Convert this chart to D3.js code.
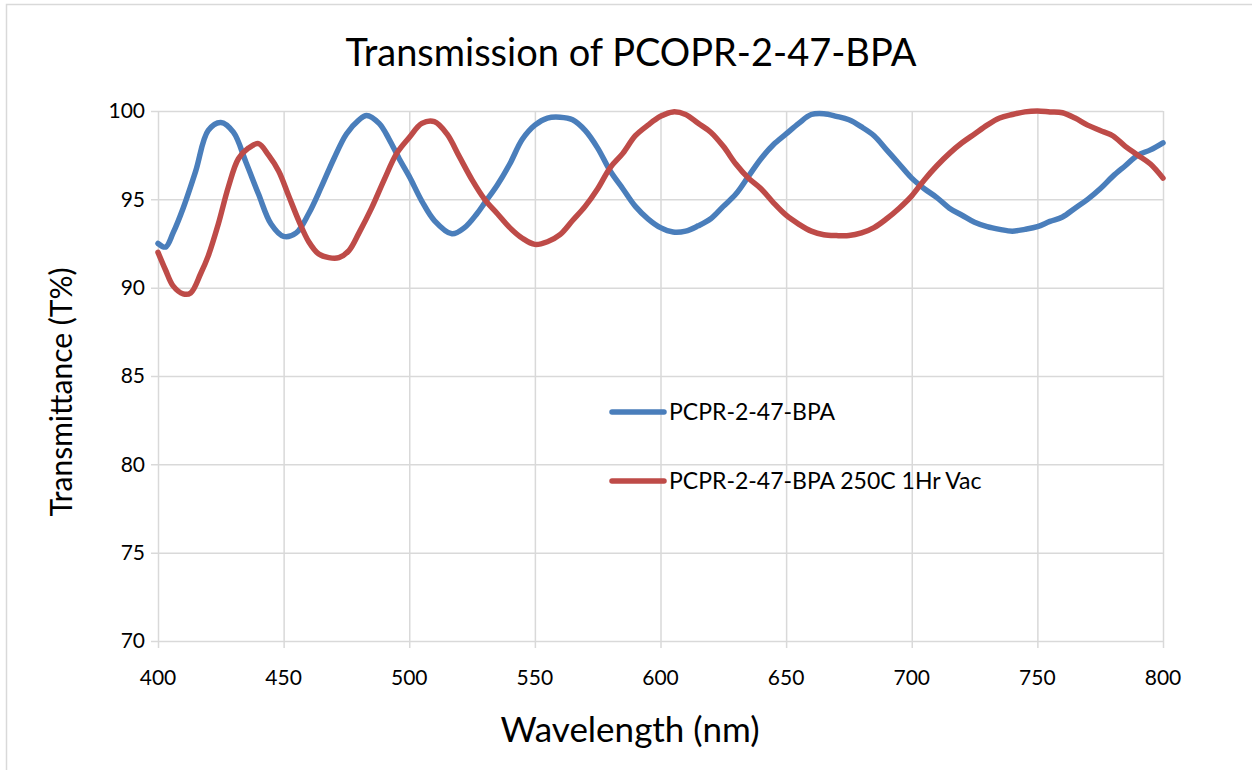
<!DOCTYPE html>
<html>
<head>
<meta charset="utf-8">
<script src="https://cdn.jsdelivr.net/npm/d3@7"></script>
<style>
  html, body { margin: 0; padding: 0; background: #fff; }
  svg { display: block; }
  text { font-family: Lato, "Open Sans", sans-serif; fill: #000; }
</style>
</head>
<body>
<svg id="chart" width="1252" height="770"></svg>
<script>
const title = "Transmission of PCOPR-2-47-BPA";
const xLabel = "Wavelength (nm)";
const yLabel = "Transmittance (T%)";
const seriesNames = ["PCPR-2-47-BPA", "PCPR-2-47-BPA 250C 1Hr Vac"];
const seriesColors = ["#4a7ebb", "#be4b48"];
const xTicks = [400, 450, 500, 550, 600, 650, 700, 750, 800];
const yTicks = [70, 75, 80, 85, 90, 95, 100];

const blueWl = [400,403,406,410,415,420,425,430,435,440,445,450,455,460,465,470,475,480,483,488,492,496,500,505,510,517,522,527,530,535,540,545,550,555,560,565,570,575,580,585,590,595,600,605,610,615,620,625,630,635,640,645,650,655,660,665,670,675,680,685,690,695,700,705,710,715,720,725,730,735,740,745,750,755,760,765,770,775,780,785,790,795,800];
const blueT = [92.5,92.3,93.1,94.5,96.6,98.9,99.35,98.8,97.1,95.3,93.6,92.9,93.1,94.2,95.7,97.3,98.7,99.5,99.75,99.3,98.4,97.3,96.3,94.9,93.8,93.05,93.4,94.2,94.8,95.8,97.0,98.4,99.2,99.6,99.65,99.5,98.9,97.9,96.6,95.6,94.6,93.9,93.4,93.15,93.2,93.5,93.9,94.6,95.3,96.3,97.3,98.1,98.7,99.3,99.8,99.85,99.7,99.5,99.1,98.6,97.8,97.0,96.2,95.6,95.1,94.5,94.1,93.7,93.45,93.3,93.2,93.3,93.45,93.75,94.0,94.5,95.0,95.6,96.3,96.9,97.5,97.8,98.2];

const redWl = [400,403,406,410,413,417,420,424,428,432,436,440,444,448,452,456,460,464,468,472,476,480,485,490,495,500,505,510,515,520,525,530,535,540,545,550,555,560,565,570,575,580,585,590,595,600,605,610,615,620,625,630,635,640,645,650,655,660,665,670,675,680,685,690,695,700,705,710,715,720,725,730,735,740,745,750,755,760,765,770,775,780,785,790,795,800];
const redT = [92.0,91.0,90.1,89.65,89.7,90.8,91.8,93.6,95.7,97.3,97.9,98.15,97.5,96.6,95.2,93.8,92.6,91.9,91.7,91.7,92.1,93.1,94.5,96.1,97.6,98.5,99.3,99.4,98.7,97.4,96.1,95.0,94.2,93.4,92.8,92.45,92.6,93.0,93.8,94.6,95.6,96.8,97.6,98.6,99.2,99.7,99.95,99.8,99.3,98.8,98.0,97.0,96.2,95.6,94.8,94.1,93.6,93.2,93.0,92.95,92.95,93.1,93.4,93.9,94.5,95.2,96.1,96.9,97.6,98.2,98.7,99.2,99.6,99.8,99.95,100.0,99.95,99.9,99.6,99.2,98.9,98.6,98.0,97.5,97.0,96.2];

const svg = d3.select("#chart");
const W = 1252, H = 770;
const m = { left: 158, top: 111, right: 1163, bottom: 641 };

// chart border
svg.append("rect").attr("x", 6.5).attr("y", 4.5).attr("width", W).attr("height", H)
  .attr("fill", "#fff").attr("stroke", "#d9d9d9").attr("stroke-width", 1.5);

const x = d3.scaleLinear().domain([400, 800]).range([m.left, m.right]);
const y = d3.scaleLinear().domain([70, 100]).range([m.bottom, m.top]);

// gridlines
const grid = svg.append("g");
grid.selectAll("line.h").data(yTicks).join("line")
  .attr("x1", m.left - 7).attr("x2", m.right)
  .attr("y1", d => y(d) + 0.5).attr("y2", d => y(d) + 0.5)
  .attr("stroke", "#d9d9d9").attr("stroke-width", 1.5);
grid.selectAll("line.v").data(xTicks).join("line")
  .attr("x1", d => x(d) + 0.5).attr("x2", d => x(d) + 0.5)
  .attr("y1", m.top).attr("y2", m.bottom + 7)
  .attr("stroke", "#d9d9d9").attr("stroke-width", 1.5);

// tick labels
svg.append("g").selectAll("text").data(yTicks).join("text")
  .attr("x", m.left - 13).attr("y", d => y(d)).attr("dy", "0.35em")
  .attr("text-anchor", "end").attr("font-size", 21).text(d => d);
svg.append("g").selectAll("text").data(xTicks).join("text")
  .attr("x", d => x(d)).attr("y", m.bottom + 44)
  .attr("text-anchor", "middle").attr("font-size", 21).text(d => d);

// titles
svg.append("text").attr("x", 631).attr("y", 66).attr("text-anchor", "middle")
  .attr("font-size", 38).text(title);
svg.append("text").attr("x", 630).attr("y", 742).attr("text-anchor", "middle")
  .attr("font-size", 35).text(xLabel);
svg.append("text").attr("transform", "translate(72,392) rotate(-90)")
  .attr("text-anchor", "middle").attr("font-size", 30).text(yLabel);

// series
const line = d3.line().x(d => x(d[0])).y(d => y(d[1])).curve(d3.curveCatmullRom.alpha(0.5));
const series = [
  blueWl.map((w, i) => [w, blueT[i]]),
  redWl.map((w, i) => [w, redT[i]])
];
svg.append("g").selectAll("path").data(series).join("path")
  .attr("d", line).attr("fill", "none")
  .attr("stroke", (d, i) => seriesColors[i]).attr("stroke-width", 5.5)
  .attr("stroke-linejoin", "round").attr("stroke-linecap", "round");

// legend
const legY = [412, 481];
const leg = svg.append("g");
seriesNames.forEach((n, i) => {
  leg.append("line").attr("x1", 612).attr("x2", 664)
    .attr("y1", legY[i]).attr("y2", legY[i])
    .attr("stroke", seriesColors[i]).attr("stroke-width", 5.5).attr("stroke-linecap", "round");
  leg.append("text").attr("x", 669).attr("y", legY[i]).attr("dy", "0.35em")
    .attr("font-size", 23).text(n);
});
</script>
</body>
</html>
